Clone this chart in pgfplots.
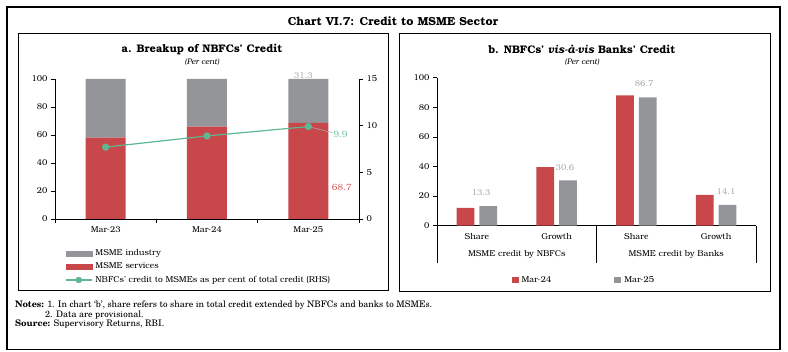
\documentclass[border=0pt]{standalone}
\usepackage{fontspec}
\setmainfont{texgyrebonum}[Extension=.otf, UprightFont=*-regular, BoldFont=*-bold, ItalicFont=*-italic, BoldItalicFont=*-bolditalic]
\newfontfamily\notefont{texgyreschola}[Extension=.otf, UprightFont=*-regular, BoldFont=*-bold, ItalicFont=*-italic, BoldItalicFont=*-bolditalic]
\usepackage{pgfplots}
\pgfplotsset{compat=1.18}

\definecolor{cred}{HTML}{C8474A}
\definecolor{cgrey}{HTML}{939598}
\definecolor{cgreen}{HTML}{5DB891}
\definecolor{lgrey}{HTML}{A7A8AA}
\definecolor{lred}{HTML}{D65A5C}
\definecolor{lgreen}{HTML}{6DC3A0}

\newcommand{\tf}{\fontsize{8.5}{10}\selectfont}

\pgfplotsset{
  common/.style={
    scale only axis,
    /pgf/number format/assume math mode=true,
    tick align=outside,
    major tick length=4pt,
    tick style={black, line width=0.6pt},
    axis line style={black, line width=0.8pt},
    ticklabel style={font=\tf},
    clip=false,
  }
}

\begin{document}
\begin{tikzpicture}[x=1pt,y=1pt]
\useasboundingbox (0,0) rectangle (788,352);

% frames
\draw[black, line width=1.6pt] (7,345) rectangle (780,2.5);
\draw[black, line width=0.8pt] (18.3,318.7) rectangle (388.3,62);
\draw[black, line width=0.8pt] (399.5,318.7) rectangle (770,61);

% titles
\node[font=\bfseries\fontsize{11.6}{13}\selectfont] at (393,330.5) {Chart VI.7: Credit to MSME Sector};
\node[font=\bfseries\fontsize{11}{13}\selectfont] at (202,303) {a. Breakup of NBFCs' Credit};
\node[font=\itshape\fontsize{8}{9}\selectfont] at (202,290) {(Per cent)};
\node[font=\bfseries\fontsize{11}{13}\selectfont] at (582,303) {b. NBFCs' \textit{vis-à-vis} Banks' Credit};
\node[font=\itshape\fontsize{8}{9}\selectfont] at (582,290) {(Per cent)};

% notes
\node[anchor=west, inner sep=0pt, font=\notefont\fontsize{9}{10}\selectfont] at (15,47) {\textbf{Notes:} 1. In chart ‘b’, share refers to share in total credit extended by NBFCs and banks to MSMEs.};
\node[anchor=west, inner sep=0pt, font=\notefont\fontsize{9}{10}\selectfont] at (45,37) {2. Data are provisional.};
\node[anchor=west, inner sep=0pt, font=\notefont\fontsize{9}{10}\selectfont] at (15,27.5) {\textbf{Source:} Supervisory Returns, RBI.};

% ---------- Panel a ----------
\begin{axis}[common,
  at={(55pt,133pt)}, anchor=south west,
  width=304pt, height=140pt,
  xmin=-0.5, xmax=2.5, ymin=0, ymax=100,
  axis x line*=bottom, axis y line*=left,
  ybar stacked, bar width=40pt,
  xtick={0,1,2}, xticklabels={Mar-23,Mar-24,Mar-25},
  major x tick style={draw=none},
  ytick={0,20,40,60,80,100},
  legend style={at={(0.033,-0.211)}, anchor=north west, draw=none, fill=none,
    inner sep=0pt, font=\tf, row sep=4pt,
    nodes={inner xsep=3pt, inner ysep=0.5pt, text height=6.3pt, text depth=2pt}},
  legend cell align=left,
]
\addlegendimage{legend image code/.code={\fill[cgrey] (0pt,-2.6pt) rectangle (26pt,2.6pt);}}
\addlegendimage{legend image code/.code={\fill[cred] (0pt,-2.6pt) rectangle (26pt,2.6pt);}}
\addlegendimage{legend image code/.code={\draw[cgreen, line width=1.2pt] (0pt,0pt) -- (26pt,0pt); \fill[cgreen] (13pt,0pt) circle (3pt);}}
\addplot[fill=cred, draw=none, forget plot] coordinates {(0,58.1) (1,66.0) (2,68.7)};
\addplot[fill=cgrey, draw=none, forget plot] coordinates {(0,41.9) (1,34.0) (2,31.3)};
\legend{MSME industry, MSME services, NBFCs' credit to MSMEs as per cent of total credit (RHS)}
\draw[black, line width=0.6pt] (axis cs:-0.5,0) -- ++(0pt,-4pt);
\draw[black, line width=0.6pt] (axis cs:0.5,0) -- ++(0pt,-4pt);
\draw[black, line width=0.6pt] (axis cs:1.5,0) -- ++(0pt,-4pt);
\draw[black, line width=0.6pt] (axis cs:2.5,0) -- ++(0pt,-4pt);
\node[lgrey, font=\tf] at (axis cs:1.95,102.6) {31.3};
\node[lred, font=\fontsize{9}{10}\selectfont] at (axis cs:2.33,22.4) {68.7};
\end{axis}

\begin{axis}[common,
  at={(55pt,133pt)}, anchor=south west,
  width=304pt, height=140pt,
  xmin=-0.5, xmax=2.5, ymin=0, ymax=15,
  axis y line*=right, axis x line=none,
  ytick={0,5,10,15},
]
\draw[lgrey, line width=0.6pt] (axis cs:2,9.9) -- ++(24pt,-6pt);
\addplot[cgreen, line width=1.2pt, mark=*, mark size=3pt, mark options={fill=cgreen, draw=cgreen}] coordinates {(0,7.7) (1,8.9) (2,9.9)};
\node[lgreen, anchor=west, font=\fontsize{9}{10}\selectfont, inner sep=1pt] at ([xshift=24pt,yshift=-8pt]axis cs:2,9.9) {9.9};
\end{axis}

% ---------- Panel b ----------
\begin{axis}[common,
  at={(437pt,126.3pt)}, anchor=south west,
  width=319pt, height=148pt,
  xmin=-0.5, xmax=3.5, ymin=0, ymax=100,
  axis x line*=bottom, axis y line*=left,
  ybar=5pt, bar width=17.7pt,
  xtick={0,1,2,3}, xticklabels={Share,Growth,Share,Growth},
  major x tick style={draw=none},
  ytick={0,20,40,60,80,100},
  legend image code/.code={\draw[#1, draw=none] (0pt,-3.4pt) rectangle (7pt,3.4pt);},
  legend style={at={(0.233,-0.367)}, anchor=west, draw=none, fill=none,
    inner sep=0pt, font=\tf, legend columns=2,
    /tikz/every even column/.append style={column sep=60pt},
    nodes={inner xsep=3pt, inner ysep=0.5pt}},
]
\addplot[fill=cred, draw=none] coordinates {(0,12.0) (1,39.5) (2,88.0) (3,20.8)};
\addplot[fill=cgrey, draw=none] coordinates {(0,13.3) (1,30.6) (2,86.7) (3,14.1)};
\legend{Mar-24, Mar-25}
\draw[black, line width=0.6pt] (axis cs:-0.5,0) -- ++(0pt,-37pt);
\draw[black, line width=0.6pt] (axis cs:1.5,0) -- ++(0pt,-37pt);
\draw[black, line width=0.6pt] (axis cs:3.5,0) -- ++(0pt,-37pt);
\node[font=\tf] at ([yshift=-28.3pt]axis cs:0.5,0) {MSME credit by NBFCs};
\node[font=\tf] at ([yshift=-28.3pt]axis cs:2.5,0) {MSME credit by Banks};
\node[lgrey, font=\tf] at (axis cs:0.052,22.1) {13.3};
\node[lgrey, font=\tf] at (axis cs:1.105,39.0) {30.6};
\node[lgrey, font=\tf] at (axis cs:2.096,95.7) {86.7};
\node[lgrey, font=\tf] at (axis cs:3.124,22.8) {14.1};
\end{axis}
\end{tikzpicture}
\end{document}
